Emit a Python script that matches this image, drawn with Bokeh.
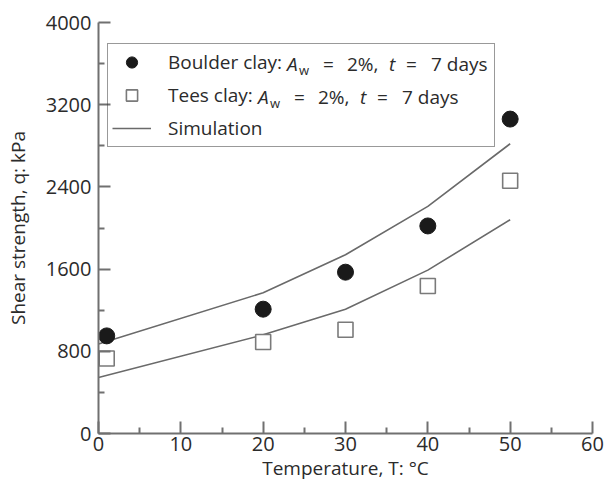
from bokeh.plotting import figure
from bokeh.models import Range1d, FixedTicker, Legend, LegendItem, ColumnDataSource
from bokeh.core.properties import value
from bokeh.embed import file_html
from bokeh.resources import INLINE

# ---- data ----
temp_obs = [1, 20, 30, 40, 50]
boulder_q = [950, 1210, 1570, 2020, 3060]
tees_q = [730, 890, 1010, 1435, 2460]
sim_T = [0, 20, 30, 40, 50]
sim_boulder = [870, 1370, 1740, 2210, 2820]
sim_tees = [545, 960, 1210, 1590, 2080]
x_ticks = [0, 10, 20, 30, 40, 50, 60]
x_minor = [5, 15, 25, 35, 45, 55]
y_ticks = [0, 800, 1600, 2400, 3200, 4000]
y_minor = [400, 1200, 2000, 2800, 3600]

FONT = "Open Sans"
TXT = "#2b2b2b"
AX = "#707070"

# frame geometry (pixels)
W, H = 606, 484
FL, FR, FT, FB = 98, 14, 22, 51
FW, FH = W - FL - FR, H - FT - FB
X0, X1, Y0, Y1 = 0, 60, 0, 4000

p = figure(width=W, height=H, x_range=Range1d(X0, X1), y_range=Range1d(Y0, Y1),
           output_backend="svg", toolbar_location=None,
           min_border_left=FL, min_border_right=FR, min_border_top=FT, min_border_bottom=FB)
p.outline_line_color = None
p.xgrid.visible = False
p.ygrid.visible = False
p.background_fill_color = "white"
p.border_fill_color = "white"

p.xaxis.ticker = FixedTicker(ticks=x_ticks, minor_ticks=x_minor)
p.yaxis.ticker = FixedTicker(ticks=y_ticks, minor_ticks=y_minor)
for ax in (p.xaxis[0], p.yaxis[0]):
    ax.axis_line_color = AX
    ax.axis_line_width = 2
    ax.major_tick_line_color = AX
    ax.major_tick_line_width = 2
    ax.minor_tick_line_color = AX
    ax.minor_tick_line_width = 2
    ax.major_tick_in = 12
    ax.major_tick_out = 0
    ax.minor_tick_in = 6
    ax.minor_tick_out = 0
    ax.major_label_text_font = FONT
    ax.major_label_text_font_size = "20px"
    ax.major_label_text_color = TXT
    ax.axis_label_text_font = FONT
    ax.axis_label_text_font_size = "19px"
    ax.axis_label_text_font_style = "normal"
    ax.axis_label_text_color = TXT

p.xaxis.axis_label = "Temperature, T: \u00b0C"
p.yaxis.axis_label = "Shear strength, q: kPa"
p.xaxis.major_label_standoff = 3
p.xaxis.axis_label_standoff = 1
p.yaxis.major_label_standoff = 7
p.yaxis.axis_label_standoff = 12

LINE = "#6a6a6a"
r_l1 = p.line(sim_T, sim_boulder, line_color=LINE, line_width=1.6)
r_l2 = p.line(sim_T, sim_tees, line_color=LINE, line_width=1.6)
r_c = p.scatter(temp_obs, boulder_q, marker="circle", size=16,
                fill_color="#1a1a1a", line_color="#1a1a1a")
r_s = p.scatter(temp_obs, tees_q, marker="square", size=15,
                fill_color="white", line_color="#7a7a7a", line_width=1.6)

legend = Legend(items=[LegendItem(label="Boulder clay: ", renderers=[r_c]),
                       LegendItem(label="Tees clay: ", renderers=[r_s]),
                       LegendItem(label="Simulation", renderers=[r_l1])],
                location=(9, 286), margin=0, padding=4, spacing=5,
                glyph_width=39, glyph_height=28, label_height=20, label_width=322,
                label_standoff=17, border_line_color="#333333", border_line_width=1.5,
                background_fill_alpha=0.0,
                label_text_font=FONT, label_text_font_size="19px", label_text_color=TXT)
p.add_layout(legend)

# ---- italic / subscript parts of the legend labels ----
def to_data(fx, fy):
    # fx: pixels from frame left, fy: pixels from frame top
    return X0 + fx * (X1 - X0) / FW, Y0 + (FH - fy) * (Y1 - Y0) / FH

rows = [(286.5 - FL, 63 - FT), (257.5 - FL, 96 - FT)]   # (start of "A", row centre)
normal = dict(x=[], y=[], text=[])
italic = dict(x=[], y=[], text=[])
sub = dict(x=[], y=[], text=[])
for ax0, cy in rows:
    for dx, txt, bucket, dy in [(0, "A", italic, 0), (12, "w", sub, 6),
                                (36, "=", normal, 0), (60, "2%,", normal, 0),
                                (102, "t", italic, 0), (119, "=", normal, 0),
                                (144, "7 days", normal, 0)]:
        x, y = to_data(ax0 + dx, cy + dy)
        bucket["x"].append(x)
        bucket["y"].append(y)
        bucket["text"].append(txt)

for bucket, style, size in [(normal, "normal", "19px"), (italic, "italic", "19px"),
                            (sub, "normal", "13px")]:
    p.text(x="x", y="y", text="text", source=ColumnDataSource(bucket),
           text_font=value(FONT), text_font_size=value(size),
           text_font_style=value(style), text_color=TXT,
           text_baseline="middle", text_align="left")

open("out.html", "w").write(file_html(p, INLINE))
